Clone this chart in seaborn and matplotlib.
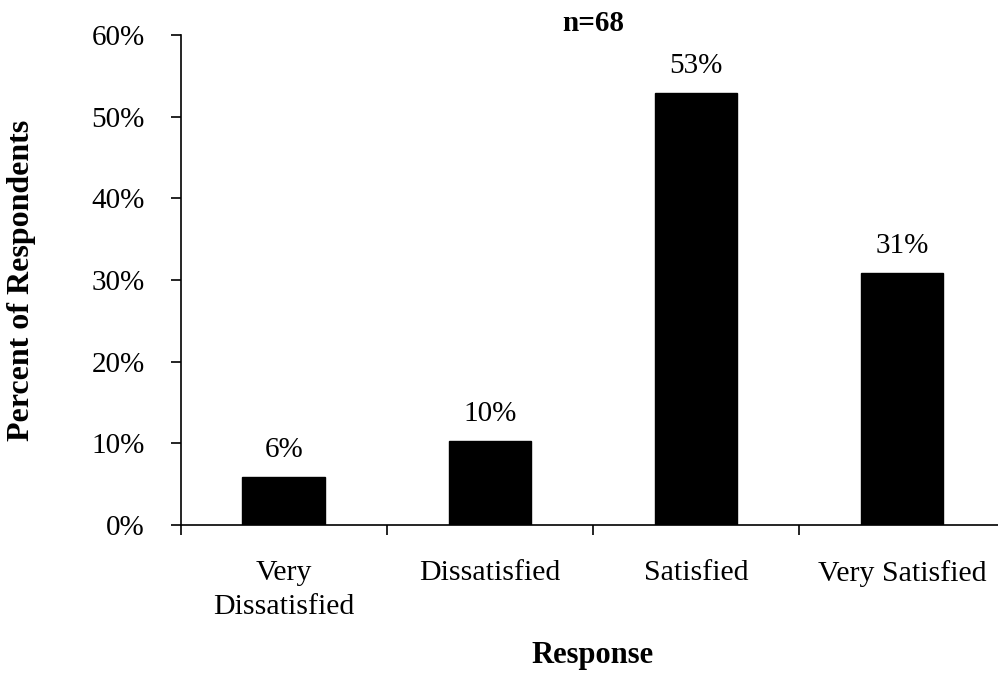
import matplotlib
matplotlib.use("Agg")
import matplotlib.pyplot as plt
import seaborn as sns
import pandas as pd

categories = ["Very\nDissatisfied", "Dissatisfied", "Satisfied", "Very Satisfied"]
percents = [5.9, 10.3, 52.9, 30.9]
bar_labels = ["6%", "10%", "53%", "31%"]
yticks = [0, 10, 20, 30, 40, 50, 60]
ytick_labels = ["0%", "10%", "20%", "30%", "40%", "50%", "60%"]

sns.set_theme(style="white")
plt.rcParams["font.family"] = ["Liberation Serif", "DejaVu Serif"]
for k in ["text.color", "axes.labelcolor", "xtick.color", "ytick.color", "axes.edgecolor"]:
    plt.rcParams[k] = "black"

df = pd.DataFrame({"cat": categories, "pct": percents})

fig = plt.figure(figsize=(9.98, 6.73), dpi=100)
ax = fig.add_axes([0.181, 0.2199, 0.826, 0.728])
sns.barplot(data=df, x="cat", y="pct", color="black", width=0.4,
            saturation=1, ax=ax, edgecolor="black")

for i, (v, lab) in enumerate(zip(percents, bar_labels)):
    ax.text(i, v + 1.7, lab, ha="center", va="bottom", fontsize=21, color="black")

ax.set_xlim(-0.5, 3.5)
ax.set_ylim(0, 60)
ax.set_yticks(yticks)
ax.set_yticklabels(ytick_labels, fontsize=21)
ax.set_xticks([-0.5, 0.5, 1.5, 2.5, 3.5])
ax.set_xticklabels([])
ax.set_xticks([0, 1, 2, 3], minor=True)
ax.set_xticklabels(categories, minor=True, fontsize=21.5, multialignment="center",
                   linespacing=1.42)
ax.tick_params(axis="x", which="minor", length=0, pad=25)
ax.tick_params(axis="x", which="major", direction="out", length=7, width=1.2, color="black", bottom=True)
ax.tick_params(axis="y", direction="out", length=7, width=1.2, color="black", left=True, pad=19)

for s in ["top", "right"]:
    ax.spines[s].set_visible(False)
for s in ["left", "bottom"]:
    ax.spines[s].set_color("black")
    ax.spines[s].set_linewidth(1.2)

ax.set_xlabel("Response", fontsize=22, fontweight="bold")
ax.xaxis.set_label_coords(0.5, -0.236)
ax.set_ylabel("Percent of Respondents", fontsize=23, fontweight="bold")
ax.yaxis.set_label_coords(-0.176, 0.5)
ax.set_title("n=68", fontsize=21, fontweight="bold", pad=3)

fig.savefig("out.png", dpi=100)
